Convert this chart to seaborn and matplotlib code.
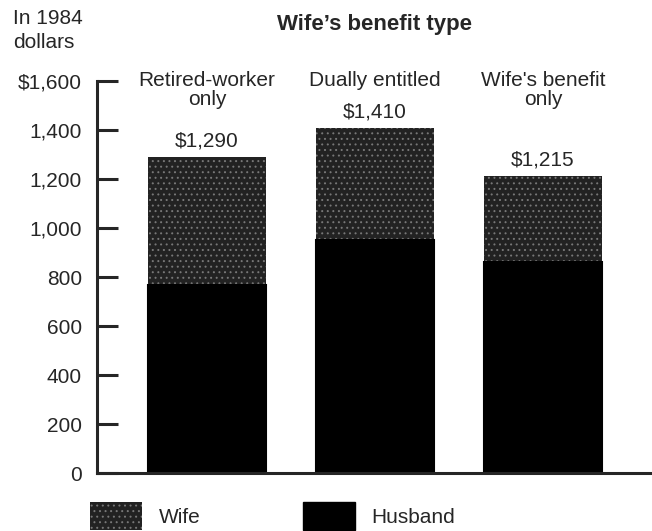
import matplotlib
matplotlib.use("Agg")
import matplotlib.pyplot as plt
import seaborn as sns
from matplotlib.patches import Patch

# Data (1984 dollars)
categories = ["Retired-worker\nonly", "Dually entitled", "Wife's benefit\nonly"]
husband = [770, 950, 860]
totals = [1290, 1410, 1215]
total_labels = ["$1,290", "$1,410", "$1,215"]
yticks = [0, 200, 400, 600, 800, 1000, 1200, 1400, 1600]
ytick_labels = ["0", "200", "400", "600", "800", "1,000", "1,200", "1,400", "$1,600"]

sns.set_style("white")
plt.rcParams["font.family"] = ["Liberation Sans", "DejaVu Sans"]
plt.rcParams["hatch.linewidth"] = 0.7

wife_face = "#222222"
wife_dots = "#777777"
fs = 15

fig = plt.figure(figsize=(6.52, 5.31), dpi=100)
ax = fig.add_axes([0.149, 0.109, 0.851, 0.738])

# Wife (stacked on top) drawn as the full total, husband overlaid
sns.barplot(x=list(range(3)), y=totals, color=wife_face, width=0.7,
            edgecolor=wife_dots, linewidth=0, saturation=1, ax=ax)
for p in ax.patches:
    p.set_hatch("...")
sns.barplot(x=list(range(3)), y=husband, color="black", width=0.7,
            edgecolor="black", linewidth=1.5, saturation=1, ax=ax)

ax.set_xlim(-0.655, 2.65)
ax.set_ylim(0, 1600)
ax.set_yticks(yticks)
ax.set_yticklabels(ytick_labels, fontsize=fs)
ax.set_xticks([])
ax.set_xlabel("")
ax.set_ylabel("")
ax.tick_params(axis="y", direction="in", length=15, width=2.2, pad=11, left=True)

for s in ["top", "right"]:
    ax.spines[s].set_visible(False)
ax.spines["left"].set_linewidth(2.2)
ax.spines["bottom"].set_linewidth(2.2)

for i, (cat, tot, lab) in enumerate(zip(categories, totals, total_labels)):
    ax.text(i, 1640, cat, ha="center", va="top", fontsize=fs, clip_on=False,
            linespacing=0.95)
    ax.text(i, tot + 42, lab, ha="center", va="baseline", fontsize=fs)

fig.text(0.02, 1 - 9 / 531, "In 1984\ndollars", ha="left", va="top",
         fontsize=fs, linespacing=1.3)
fig.text(0.575, 1 - 30 / 531, "Wife\u2019s benefit type", ha="center",
         va="baseline", fontsize=16, fontweight="bold")

handles = [Patch(facecolor=wife_face, edgecolor=wife_dots, linewidth=0,
                 hatch="...", label="Wife"),
           Patch(facecolor="black", edgecolor="black", label="Husband")]
fig.legend(handles=handles, loc="upper left", bbox_to_anchor=(0.138, 1 - 502 / 531),
           ncol=2, frameon=False, fontsize=fs, handlelength=2.5,
           handleheight=1.7, handletextpad=0.8, columnspacing=4.9,
           borderaxespad=0, borderpad=0)

fig.savefig("out.png", dpi=100)
